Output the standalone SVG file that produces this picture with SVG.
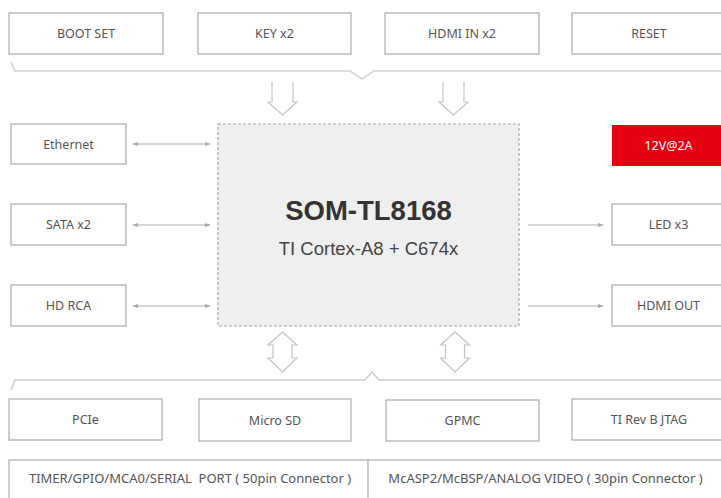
<svg xmlns="http://www.w3.org/2000/svg" width="721" height="498" viewBox="0 0 721 498">
<style>
.box{fill:#fff;stroke:#ababab;stroke-width:1.2}
.lbl{font-family:"Noto Sans","Open Sans","DejaVu Sans",sans-serif;font-size:12.5px;fill:#555;text-anchor:middle;dominant-baseline:central}
.brk{fill:none;stroke:#d0d0d0;stroke-width:1.5}
.fat{fill:#fff;stroke:#c4c4c4;stroke-width:1.2}
.thin{fill:none;stroke:#aaa;stroke-width:1}
</style>
<defs>
<marker id="ah" viewBox="0 0 10 10" refX="9" refY="5" markerWidth="6" markerHeight="6" orient="auto-start-reverse" markerUnits="userSpaceOnUse">
<path d="M0,1.5 L10,5 L0,8.5 z" fill="#aaa"/>
</marker>
</defs>
<rect width="721" height="498" fill="#fff"/>

<g id="boot-set"><rect class="box" x="9" y="13" width="154" height="41"/><text class="lbl" x="86" y="33.5">BOOT SET</text></g>
<g id="key"><rect class="box" x="198" y="13" width="153" height="41"/><text class="lbl" x="274.5" y="33.5">KEY x2</text></g>
<g id="hdmi-in"><rect class="box" x="385" y="13" width="154" height="41"/><text class="lbl" x="462" y="33.5">HDMI IN x2</text></g>
<g id="reset"><rect class="box" x="572" y="13" width="154" height="41"/><text class="lbl" x="649" y="33.5">RESET</text></g>

<g id="ethernet"><rect class="box" x="11" y="124" width="115" height="40"/><text class="lbl" x="68.5" y="144">Ethernet</text></g>
<g id="sata"><rect class="box" x="11" y="204" width="115" height="41"/><text class="lbl" x="68.5" y="224.5">SATA x2</text></g>
<g id="hd-rca"><rect class="box" x="11" y="285" width="115" height="41"/><text class="lbl" x="68.5" y="305.5">HD RCA</text></g>

<g id="power"><rect x="612" y="125" width="115" height="41" fill="#e50012"/><text class="lbl" x="668.5" y="145.5" style="fill:#fff">12V@2A</text></g>
<g id="led"><rect class="box" x="612" y="204" width="115" height="41"/><text class="lbl" x="668.5" y="224.5">LED x3</text></g>
<g id="hdmi-out"><rect class="box" x="612" y="285" width="115" height="41"/><text class="lbl" x="668.5" y="305.5">HDMI OUT</text></g>

<g id="som">
<rect x="218" y="124" width="301" height="202" fill="#efefef" stroke="#a8a8a8" stroke-width="1.2" stroke-dasharray="3,2"/>
<text x="368.5" y="220" text-anchor="middle" font-family="'Liberation Sans',Arial,sans-serif" font-weight="bold" font-size="27.5" fill="#333">SOM-TL8168</text>
<text x="368.5" y="255" text-anchor="middle" font-family="'Liberation Sans',Arial,sans-serif" font-size="18.5" fill="#444">TI Cortex-A8 + C674x</text>
</g>

<g id="pcie"><rect class="box" x="9" y="399" width="153" height="41"/><text class="lbl" x="85.5" y="419.5">PCIe</text></g>
<g id="microsd"><rect class="box" x="199" y="399" width="152" height="42"/><text class="lbl" x="275" y="420">Micro SD</text></g>
<g id="gpmc"><rect class="box" x="386" y="400" width="153" height="41"/><text class="lbl" x="462.5" y="420.5">GPMC</text></g>
<g id="jtag"><rect class="box" x="572" y="399" width="154" height="41"/><text class="lbl" x="649" y="419.5">TI Rev B JTAG</text></g>

<g id="connectors-row">
<rect class="box" x="9" y="460" width="730" height="60"/>
<line x1="368" y1="460" x2="368" y2="498" stroke="#ababab" stroke-width="1.2"/>
<text class="lbl" x="190" y="478" style="font-size:13px;white-space:pre" xml:space="preserve">TIMER/GPIO/MCA0/SERIAL  PORT ( 50pin Connector )</text>
<text class="lbl" x="545.5" y="478" style="font-size:13px">McASP2/McBSP/ANALOG VIDEO ( 30pin Connector )</text>
</g>

<g id="connectors">
<path class="brk" d="M11,62 L15,71 H350 L362,79 L374,71 H721"/>
<path class="brk" d="M11,390 L15,380 H365 L372,372 L379,380 H721"/>
<path class="fat" d="M272,82 V102 H268 L282.5,115 L297,102 H293 V82"/>
<path class="fat" d="M443,82 V102 H439 L453.5,115 L468,102 H464 V82"/>
<path class="fat" d="M282.5,332 L297,345 H292 V358 H297 L282.5,372 L268,358 H273 V345 H268 Z"/>
<path class="fat" d="M455,332 L469.5,345 H464.5 V358 H469.5 L455,372 L440.5,358 H445.5 V345 H440.5 Z"/>
<line class="thin" x1="133" y1="144" x2="210" y2="144" marker-start="url(#ah)" marker-end="url(#ah)"/>
<line class="thin" x1="133" y1="225" x2="210" y2="225" marker-start="url(#ah)" marker-end="url(#ah)"/>
<line class="thin" x1="133" y1="306" x2="210" y2="306" marker-start="url(#ah)" marker-end="url(#ah)"/>
<line class="thin" x1="528" y1="225" x2="603" y2="225" marker-end="url(#ah)"/>
<line class="thin" x1="528" y1="306" x2="603" y2="306" marker-end="url(#ah)"/>
</g>
</svg>
